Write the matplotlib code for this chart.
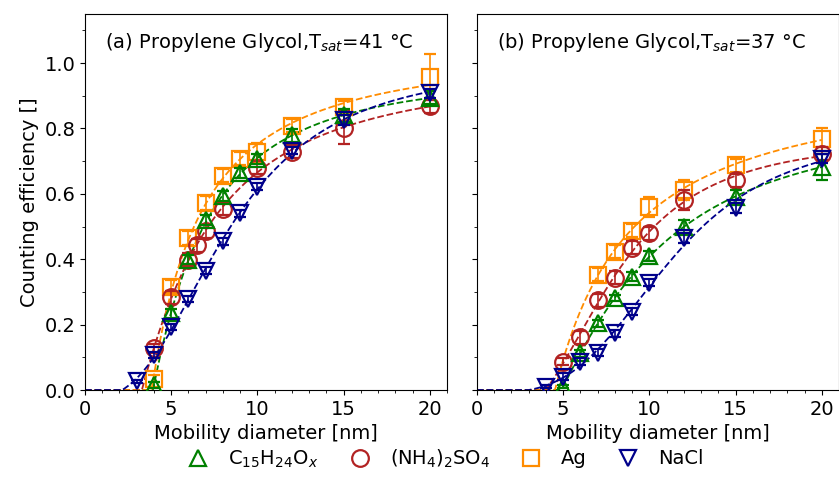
import numpy as np
import matplotlib
matplotlib.use("Agg")
import matplotlib.pyplot as plt
from matplotlib.ticker import MultipleLocator
from matplotlib.lines import Line2D

# ---------------- data ----------------
labels = [r"C$_{15}$H$_{24}$O$_x$", r"(NH$_4$)$_2$SO$_4$", "Ag", "NaCl"]
colors = ["green", "firebrick", "darkorange", "darkblue"]
markers = ["^", "o", "s", "v"]

# panel (a) T_sat = 41 C
a_c15_d = [4, 5, 6, 7, 8, 9, 10, 12, 15, 20]
a_c15_y = [0.015, 0.234, 0.399, 0.519, 0.593, 0.663, 0.706, 0.779, 0.840, 0.894]
a_c15_e = [0.01, 0.015, 0.015, 0.015, 0.015, 0.015, 0.015, 0.02, 0.02, 0.02]

a_amsu_d = [4, 5, 6, 6.5, 7, 8, 10, 12, 15, 20]
a_amsu_y = [0.127, 0.284, 0.398, 0.443, 0.486, 0.555, 0.680, 0.729, 0.802, 0.868]
a_amsu_e = [0.015, 0.02, 0.02, 0.02, 0.02, 0.02, 0.02, 0.02, 0.05, 0.02]

a_ag_d = [4, 5, 6, 7, 8, 9, 10, 12, 15, 20]
a_ag_y = [0.035, 0.316, 0.465, 0.572, 0.655, 0.707, 0.727, 0.809, 0.865, 0.957]
a_ag_e = [0.01, 0.02, 0.02, 0.02, 0.02, 0.02, 0.03, 0.02, 0.02, 0.07]

a_nacl_d = [3, 4, 5, 6, 7, 8, 9, 10, 12, 15, 20]
a_nacl_y = [0.026, 0.107, 0.192, 0.278, 0.365, 0.455, 0.540, 0.622, 0.732, 0.827, 0.907]
a_nacl_e = [0.005, 0.01, 0.01, 0.01, 0.01, 0.01, 0.01, 0.01, 0.01, 0.015, 0.015]

# panel (b) T_sat = 37 C
b_c15_d = [5, 6, 7, 8, 9, 10, 12, 15, 20]
b_c15_y = [0.010, 0.112, 0.204, 0.282, 0.347, 0.410, 0.500, 0.591, 0.683]
b_c15_e = [0.005, 0.01, 0.01, 0.01, 0.015, 0.015, 0.02, 0.02, 0.04]

b_amsu_d = [5, 6, 7, 8, 9, 10, 12, 15, 20]
b_amsu_y = [0.087, 0.161, 0.275, 0.343, 0.435, 0.479, 0.581, 0.642, 0.722]
b_amsu_e = [0.01, 0.02, 0.02, 0.02, 0.02, 0.02, 0.03, 0.02, 0.02]

b_ag_d = [7, 8, 9, 10, 12, 15, 20]
b_ag_y = [0.352, 0.423, 0.487, 0.559, 0.612, 0.688, 0.767]
b_ag_e = [0.02, 0.02, 0.02, 0.03, 0.03, 0.02, 0.035]

b_nacl_d = [4, 5, 6, 7, 8, 9, 10, 12, 15, 20]
b_nacl_y = [0.010, 0.041, 0.087, 0.114, 0.173, 0.240, 0.328, 0.464, 0.556, 0.708]
b_nacl_e = [0.005, 0.01, 0.01, 0.01, 0.01, 0.01, 0.01, 0.015, 0.015, 0.015]

panel_titles = [r"(a) Propylene Glycol,T$_{sat}$=41 °C",
                r"(b) Propylene Glycol,T$_{sat}$=37 °C"]

panels = [
    [(a_c15_d, a_c15_y, a_c15_e), (a_amsu_d, a_amsu_y, a_amsu_e),
     (a_ag_d, a_ag_y, a_ag_e), (a_nacl_d, a_nacl_y, a_nacl_e)],
    [(b_c15_d, b_c15_y, b_c15_e), (b_amsu_d, b_amsu_y, b_amsu_e),
     (b_ag_d, b_ag_y, b_ag_e), (b_nacl_d, b_nacl_y, b_nacl_e)],
]


def fit_curve(d, y, dfine):
    """Least-squares fit of eta = a - b/(1+(d/d1)^k), clipped at 0."""
    d = np.asarray(d, float)
    y = np.asarray(y, float)
    n = len(d)
    d1 = np.geomspace(0.5, 60.0, 400)[:, None, None]
    k = np.geomspace(0.3, 20.0, 200)[None, :, None]
    g = 1.0 / (1.0 + np.exp(np.clip(k * np.log(d[None, None, :] / d1), -60, 60)))
    sg = g.sum(-1)
    sgg = (g * g).sum(-1)
    sy = y.sum()
    sgy = (g * y).sum(-1)
    den = n * sgg - sg ** 2
    den = np.where(np.abs(den) < 1e-12, np.nan, den)
    c = (n * sgy - sg * sy) / den
    a = (sy - c * sg) / n
    res = ((a[..., None] + c[..., None] * g - y) ** 2).sum(-1)
    res = np.where(np.isfinite(res), res, np.inf)
    i, j = np.unravel_index(np.argmin(res), res.shape)
    A, C = a[i, j], c[i, j]
    D1, K = d1[i, 0, 0], k[0, j, 0]
    x = np.maximum(dfine, 1e-6)
    out = A + C / (1.0 + (x / D1) ** K)
    return np.clip(out, 0, None)


plt.rcParams["font.family"] = "DejaVu Sans"
plt.rcParams["font.size"] = 14

fig = plt.figure(figsize=(8.39, 4.80), dpi=100)
ax1 = fig.add_axes([0.1013, 0.1875, 0.4315, 0.7833])
ax2 = fig.add_axes([0.5685, 0.1875, 0.4315, 0.7833])

zorders = [5, 4, 3, 6]
dfine = np.linspace(0.0, 20.0, 400)
for ax, series, title in zip([ax1, ax2], panels, panel_titles):
    for i, (d, y, e) in enumerate(series):
        yf = fit_curve(d, y, dfine)
        ax.plot(dfine, yf, "--", color=colors[i], lw=1.3, zorder=2)
        ax.errorbar(d, y, yerr=e, fmt=markers[i], color=colors[i],
                    mfc="none", mec=colors[i], ms=12, mew=1.6,
                    elinewidth=1.2, capsize=4, capthick=1.2,
                    zorder=zorders[i], label=labels[i])
    ax.set_xlim(0, 21)
    ax.set_ylim(0, 1.15)
    ax.xaxis.set_major_locator(MultipleLocator(5))
    ax.xaxis.set_minor_locator(MultipleLocator(1))
    ax.yaxis.set_major_locator(MultipleLocator(0.2))
    ax.yaxis.set_minor_locator(MultipleLocator(0.1))
    ax.set_xlabel("Mobility diameter [nm]")
    ax.text(0.055, 0.923, title, transform=ax.transAxes, va="center",
            ha="left", fontsize=14)

ax1.set_ylabel("Counting efficiency []")
ax2.tick_params(axis="y", labelleft=False)

leg_handles = [Line2D([], [], ls="none", marker=markers[i], mfc="none",
                      mec=colors[i], ms=12, mew=1.6) for i in range(4)]
fig.legend(leg_handles, labels, loc="lower center", ncol=4, frameon=False,
           bbox_to_anchor=(0.528, -0.015), columnspacing=1.3,
           handlelength=1.6, handletextpad=0.75, fontsize=14)

fig.savefig("out.png", dpi=100)
